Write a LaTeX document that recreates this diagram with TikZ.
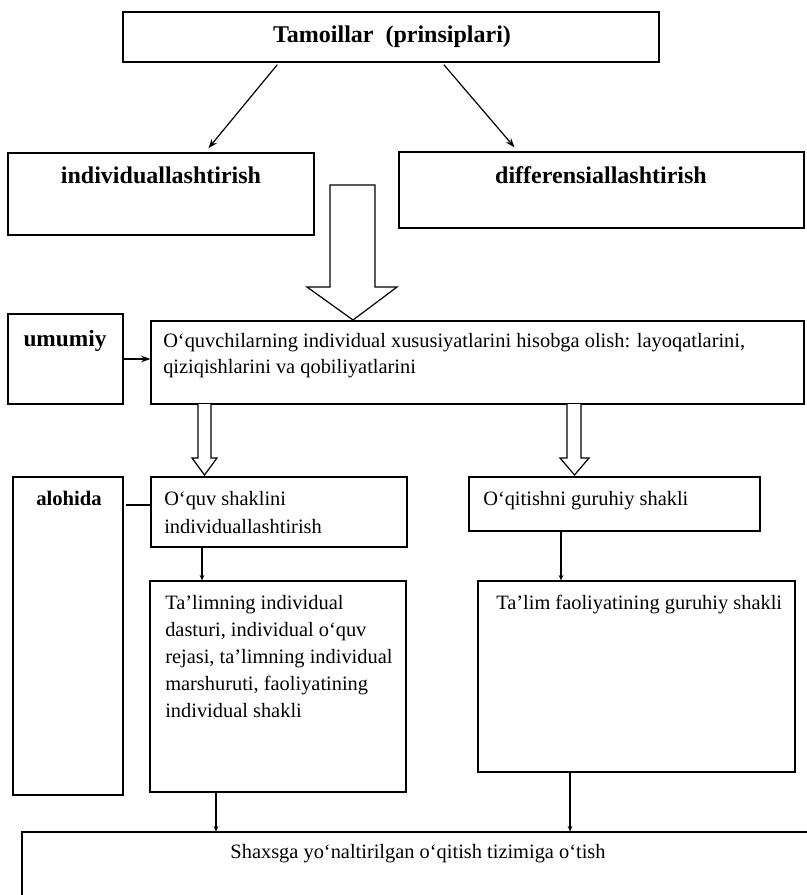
\documentclass[tikz,border=0pt]{standalone}
\usepackage{fontspec}
\setmainfont{Liberation Serif}
\usetikzlibrary{fit,arrows.meta}
\begin{document}
\begin{tikzpicture}[x=0.75pt,y=-0.75pt,
  box/.style={draw,line width=0.9pt,inner sep=0pt},
  reg/.style={font=\fontsize{15.3}{20.25}\selectfont,inner sep=0pt,align=left,anchor=north west},
  bld/.style={font=\fontsize{18}{22}\selectfont\bfseries,inner sep=0pt,anchor=base},
  arr/.style={line width=0.9pt,-{Stealth[length=7pt,width=5pt]}},
  arrs/.style={line width=0.9pt,-{Stealth[length=4pt,width=3.5pt]}},
  plain/.style={line width=0.9pt},
  hollow/.style={draw,line width=0.9pt,fill=white,line join=miter}]
\useasboundingbox[fill=white] (0,0) rectangle (806,895);

% top level
\node[box,fit={(123,12)(659,62)}] (top) {};
\node[bld] (toptxt) at (392,43) {Tamoillar\ \ (prinsiplari)};
\node[box,fit={(8,153)(314,235)}] (ind) {};
\node[bld] (indtxt) at (161,183) {individuallashtirish};
\node[box,fit={(399,152)(804,228)}] (dif) {};
\node[bld] (diftxt) at (601,183) {differensiallashtirish};
\draw[arr,shorten <=2pt,shorten >=4pt] (279,0 |- top.south) -- (205,0 |- ind.north);
\draw[arr,shorten <=2pt,shorten >=4pt] (442,0 |- top.south) -- (518,0 |- dif.north);

% big hollow arrow
\draw[hollow] (330,185) -- (330,287) -- (307,287) -- (353,320) -- (397,287) -- (375,287) -- (375,185) -- cycle;

% general level
\node[box,fit={(8,314)(123,404)}] (umu) {};
\node[bld,font=\fontsize{17.5}{21}\selectfont\bfseries] (umutxt) at (65,346) {umumiy};
\node[box,fit={(151,321)(804,404)}] (main) {};
\node[reg,font=\fontsize{15.3}{19.5}\selectfont] (maintxt) at (163,333) {O‘quvchilarning individual xususiyatlarini hisobga olish: layoqatlarini,\\qiziqishlarini va qobiliyatlarini};
\draw[arr] (umu.east |- 0,359) -- (main.west |- 0,359);

% small hollow arrows
\draw[hollow] (198,404) -- (198,458) -- (192,458) -- (204.5,475) -- (217,458) -- (211,458) -- (211,404);
\draw[hollow] (567,404) -- (567,458) -- (560,458) -- (574.5,475) -- (589,458) -- (581,458) -- (581,404);

% separate level
\node[box,fit={(13,477)(123,795)}] (alo) {};
\node[bld,font=\fontsize{15.5}{18}\selectfont\bfseries] (alotxt) at (69,505) {alohida};
\node[box,fit={(151,477)(407,547)}] (oquv) {};
\node[reg,font=\fontsize{15.3}{21}\selectfont] (oquvtxt) at (164,491) {O‘quv shaklini\\individuallashtirish};
\draw[plain,shorten <=2pt] (alo.east |- 0,505) -- (oquv.west |- 0,505);
\node[box,fit={(469,477)(760,531)}] (oqit) {};
\node[reg] (oqittxt) at (483,491) {O‘qitishni guruhiy shakli};

\node[box,fit={(150,581)(406,792)}] (tal1) {};
\node[reg] (tal1txt) at (165,595) {Ta’limning individual\\dasturi, individual o‘quv\\rejasi, ta’limning individual\\marshuruti, faoliyatining\\individual shakli};
\node[box,fit={(478,581)(795,772)}] (tal2) {};
\node[reg] (tal2txt) at (496,595) {Ta’lim faoliyatining guruhiy shakli};
\draw[arrs] (202,0 |- oquv.south) -- (202,0 |- tal1.north);
\draw[arrs] (561,0 |- oqit.south) -- (561,0 |- tal2.north);

% bottom
\node[box,fit={(22,832)(830,930)}] (shax) {};
\node[reg,anchor=base] (shaxtxt) at (418,858) {Shaxsga yo‘naltirilgan o‘qitish tizimiga o‘tish};
\draw[arrs] (216,0 |- tal1.south) -- (216,0 |- shax.north);
\draw[arrs] (570,0 |- tal2.south) -- (570,0 |- shax.north);
\end{tikzpicture}
\end{document}
